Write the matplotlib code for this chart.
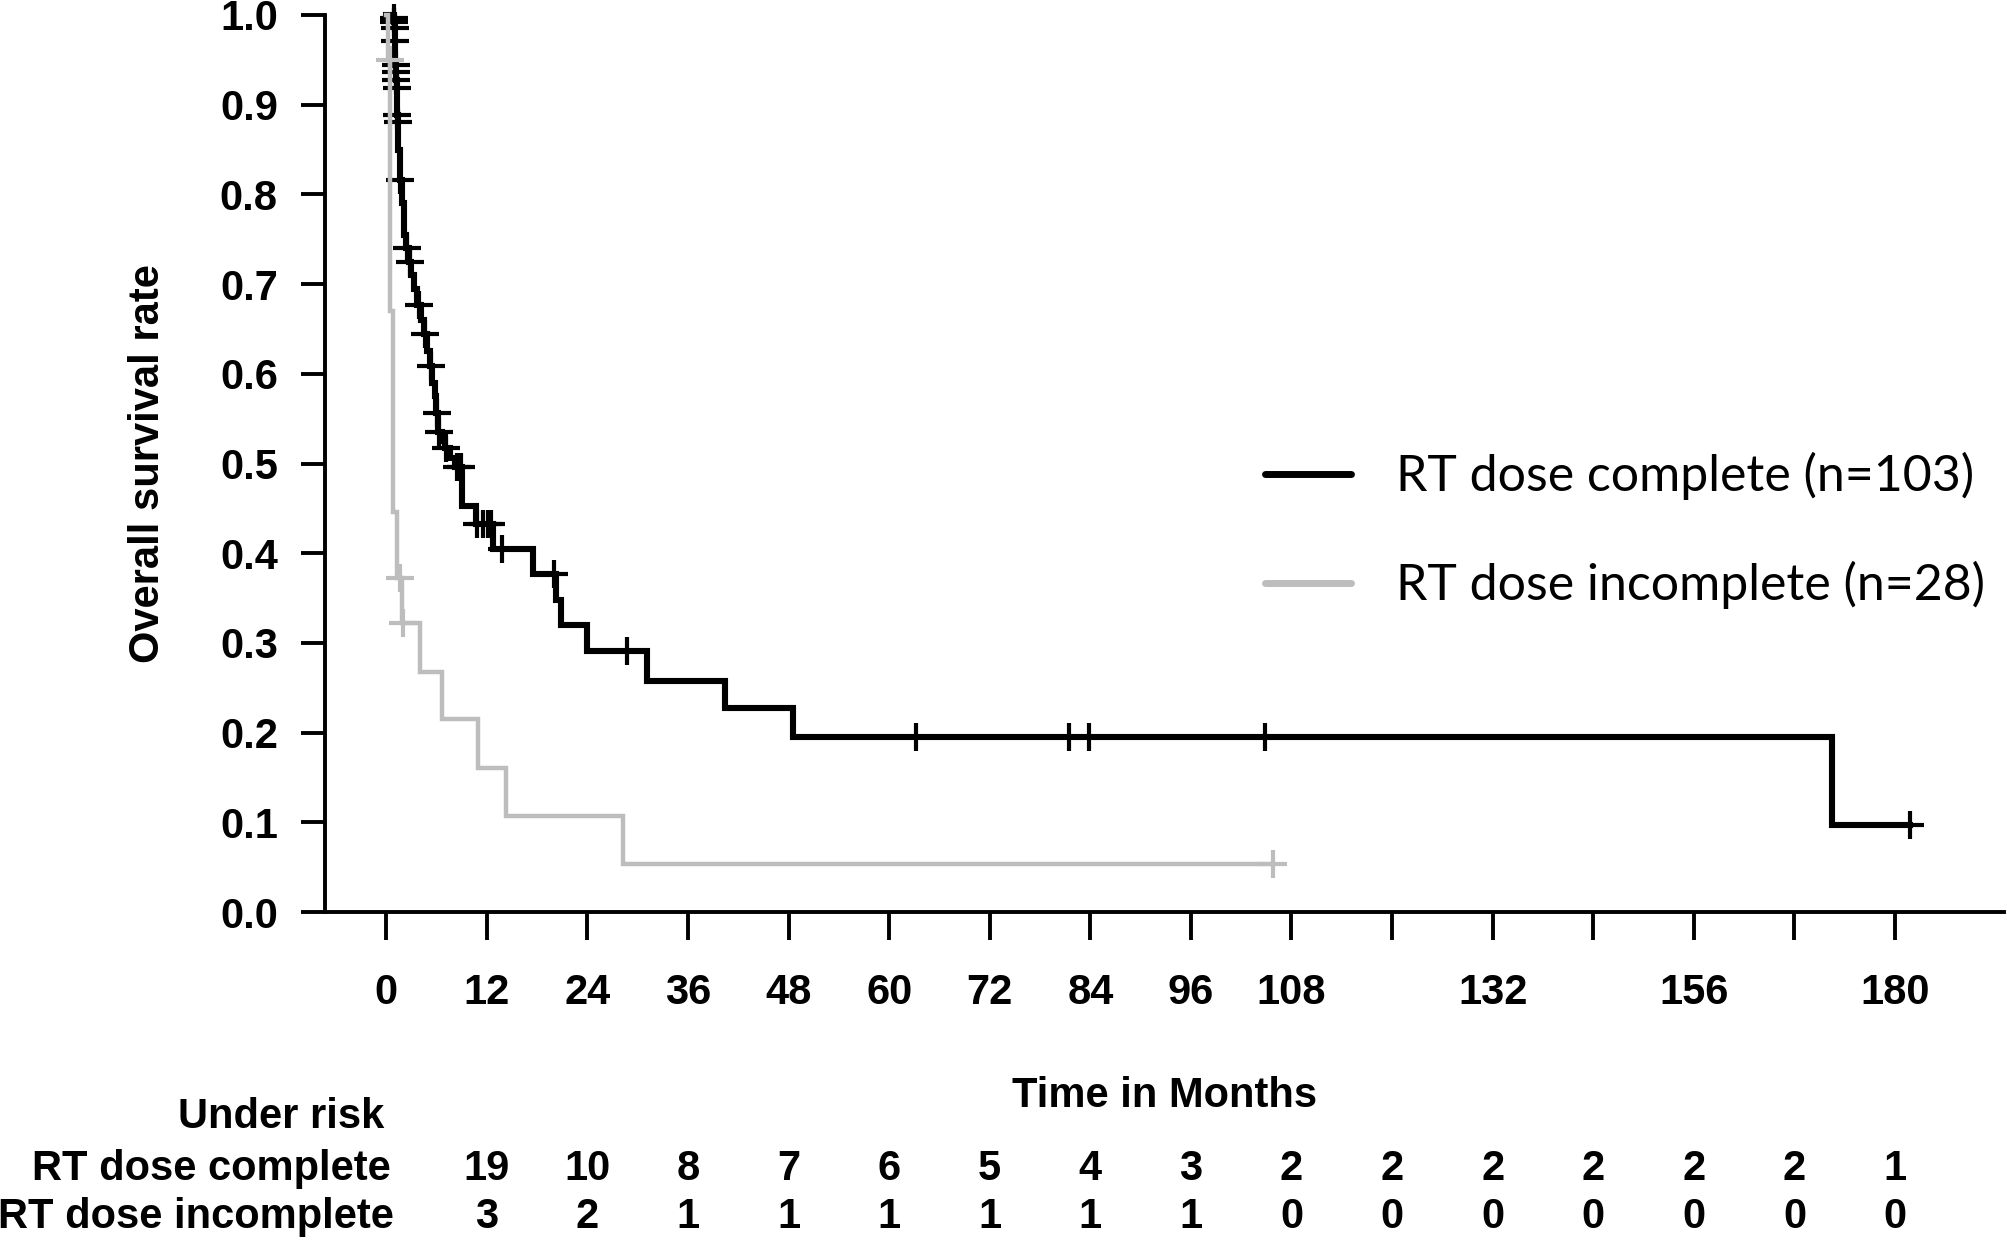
import numpy as np
import matplotlib
matplotlib.use('Agg')
import matplotlib.pyplot as plt
from matplotlib import transforms
from matplotlib.lines import Line2D

# Kaplan-Meier curves: step times (months) and survival after each step
complete_t = [0.90, 0.95, 1.00, 1.05, 1.10, 1.15, 1.20, 1.25, 1.30, 1.35, 1.45, 1.60,
              1.90, 2.10, 2.40, 2.70, 3.00, 3.30, 3.70, 4.20, 4.50, 4.90, 5.20, 5.50,
              5.80, 6.00, 6.20, 6.60, 7.00, 7.60, 8.20, 9.10, 10.70, 12.70, 17.50,
              20.30, 20.80, 24.00, 31.10, 40.40, 48.50, 172.50]
complete_s = [0.997, 0.992, 0.985, 0.971, 0.944, 0.936, 0.928, 0.919, 0.889, 0.881, 0.850, 0.816,
              0.790, 0.755, 0.740, 0.725, 0.710, 0.695, 0.677, 0.660, 0.644, 0.625, 0.609, 0.590,
              0.575, 0.556, 0.535, 0.525, 0.517, 0.506, 0.496, 0.453, 0.432, 0.405, 0.377,
              0.348, 0.320, 0.291, 0.258, 0.227, 0.195, 0.0975]
complete_end = 181.8
complete_cens = [0.92, 0.97, 1.02, 1.07, 1.12, 1.17, 1.22, 1.27, 1.32, 1.37, 1.7, 2.5, 2.8,
                 3.9, 4.6, 5.3, 6.1, 6.3, 7.1, 8.4, 8.9, 10.8, 11.6, 12.1, 12.5, 13.8,
                 20.0, 28.7, 63.2, 81.4, 83.9, 104.8, 181.8]

incomplete_t = [0.2, 0.5, 0.8, 1.3, 1.9, 4.0, 6.6, 10.9, 14.3, 28.2]
incomplete_s = [0.95, 0.67, 0.446, 0.372, 0.322, 0.268, 0.215, 0.161, 0.107, 0.054]
incomplete_end = 105.8
incomplete_cens = [0.4, 1.6, 2.0, 105.8]

xticks = list(range(0, 181, 12))
xtick_labels = ['0', '12', '24', '36', '48', '60', '72', '84', '96', '108',
                '', '132', '', '156', '', '180']
yticks = [0.0, 0.1, 0.2, 0.3, 0.4, 0.5, 0.6, 0.7, 0.8, 0.9, 1.0]

risk_times = [12, 24, 36, 48, 60, 72, 84, 96, 108, 120, 132, 144, 156, 168, 180]
risk_complete = [19, 10, 8, 7, 6, 5, 4, 3, 2, 2, 2, 2, 2, 2, 1]
risk_incomplete = [3, 2, 1, 1, 1, 1, 1, 1, 0, 0, 0, 0, 0, 0, 0]

labels = ['RT dose complete (n=103)', 'RT dose incomplete (n=28)']
colors = ['black', '#bdbdbd']

bold = dict(family='Liberation Sans', weight='bold', size=30)


def km_xy(t, s, end):
    x = np.r_[0.0, t, end]
    y = np.r_[1.0, s, s[-1]]
    return x, y


def at(t, s, c):
    # survival level of the step curve at censor time c
    i = np.searchsorted(t, c, side='right')
    return 1.0 if i == 0 else s[i - 1]


W, H = 2008, 1244
fig = plt.figure(figsize=(W / 100, H / 100), dpi=100)
ax = fig.add_axes([325 / W, (H - 912) / H, (2004 - 325) / W, (912 - 15) / H])

curves = [(complete_t, complete_s, complete_end, complete_cens, 4.4),
          (incomplete_t, incomplete_s, incomplete_end, incomplete_cens, 3.2)]
for (t, s, end, cens, lw), col, z in zip(curves, colors, [2, 3]):
    x, y = km_xy(t, s, end)
    ax.step(x, y, where='post', color=col, lw=lw, clip_on=False, zorder=z,
            solid_joinstyle='miter')
    cy = [at(t, s, c) for c in cens]
    ax.plot(cens, cy, ls='none', marker='+', ms=20, mew=3, color=col,
            clip_on=False, zorder=z)

ax.set_xlim(-7.3, 193)
ax.set_ylim(0, 1)
for side in ['top', 'right']:
    ax.spines[side].set_visible(False)
for side in ['left', 'bottom']:
    ax.spines[side].set_linewidth(2.8)

ax.set_xticks(xticks)
ax.set_xticklabels(xtick_labels, fontdict=bold)
ax.set_yticks(yticks)
ax.set_yticklabels(['%.1f' % v for v in yticks], fontdict=bold)
ax.tick_params(axis='x', direction='out', length=20, width=2.8, pad=24)
ax.tick_params(axis='y', direction='out', length=17, width=2.8, pad=17)

fig.text(148 / W, (H - 464) / H, 'Overall survival rate', rotation=90,
         ha='center', va='center', **bold)

handles = [Line2D([], [], color=c, lw=5, solid_capstyle='round') for c in colors]
ax.legend(handles, labels, loc='upper left', bbox_to_anchor=(1265 / W, (H - 452) / H),
          bbox_transform=fig.transFigure, frameon=False,
          prop=dict(family='Lato', size=36), handlelength=1.72, handletextpad=0.9,
          labelspacing=1.22, borderpad=0, borderaxespad=0)

# number at risk table below the axis
fig.text((325 + 2004) / 2 / W, (H - 1107) / H, 'Time in Months', ha='center',
         va='baseline', **bold)
fig.text(384 / W, (H - 1128) / H, 'Under risk', ha='right', va='baseline', **bold)
fig.text(391 / W, (H - 1180) / H, 'RT dose complete', ha='right', va='baseline', **bold)
fig.text(394 / W, (H - 1228) / H, 'RT dose incomplete', ha='right', va='baseline', **bold)

trans = transforms.blended_transform_factory(ax.transData, fig.transFigure)
for tm, a, b in zip(risk_times, risk_complete, risk_incomplete):
    ax.text(tm, (H - 1180) / H, str(a), transform=trans, ha='center', va='baseline',
            clip_on=False, **bold)
    ax.text(tm, (H - 1228) / H, str(b), transform=trans, ha='center', va='baseline',
            clip_on=False, **bold)

fig.savefig('out.png', dpi=100)
